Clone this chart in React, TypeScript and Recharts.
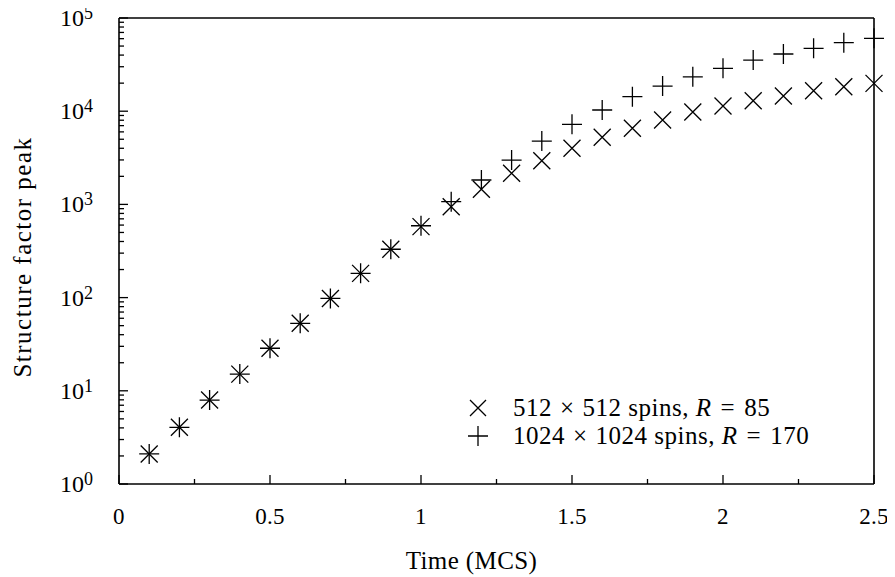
import React from 'react';
import { ScatterChart, Scatter, XAxis, YAxis, Legend } from 'recharts';

const times = [0.1, 0.2, 0.3, 0.4, 0.5, 0.6, 0.7, 0.8, 0.9, 1.0, 1.1, 1.2, 1.3, 1.4, 1.5, 1.6, 1.7, 1.8, 1.9, 2.0, 2.1, 2.2, 2.3, 2.4, 2.5];
const peak512 = [2.1, 4.06, 7.96, 15.1, 28.6, 53, 98, 182, 330, 577, 944, 1452, 2155, 2944, 4000, 5250, 6550, 8050, 9800, 11370, 12970, 14560, 16600, 18300, 19900];
const peak1024 = [2.1, 4.06, 7.96, 15.1, 28.6, 53, 98, 182, 330, 590, 1069, 1828, 2993, 4786, 7230, 10300, 14300, 18600, 23400, 28850, 35400, 41100, 47300, 54300, 60500];
const xTicks = [0, 0.25, 0.5, 0.75, 1, 1.25, 1.5, 1.75, 2, 2.25, 2.5];
const yMajor = [1, 10, 100, 1000, 10000, 100000];
const yMinorMultipliers = [2, 3, 4, 5, 6, 7, 8, 9];
const legendLabels = ['512 × 512 spins, R = 85', '1024 × 1024 spins, R = 170'];

const FONT = "'Liberation Serif', 'Times New Roman', Times, serif";
const INK = '#000';

const yTicks: number[] = [];
yMajor.forEach((m, i) => {
  yTicks.push(m);
  if (i < yMajor.length - 1) yMinorMultipliers.forEach((k) => yTicks.push(k * m));
});

const data512 = times.map((t, i) => ({ x: t, y: peak512[i] }));
const data1024 = times.map((t, i) => ({ x: t, y: peak1024[i] }));

const isXMajor = (v: number) => Math.abs(v * 2 - Math.round(v * 2)) < 1e-6;
const isYMajor = (v: number) => {
  const e = Math.round(Math.log10(v));
  return Math.abs(v - Math.pow(10, e)) < 1e-6 * v;
};

const BottomTick = (props: any) => {
  const { x, y, payload } = props;
  const v = payload.value;
  const major = isXMajor(v);
  return (
    <g>
      <line x1={x} x2={x} y1={y} y2={y - (major ? 9 : 5)} stroke={INK} strokeWidth={1.3} />
      {major && (
        <text x={x} y={y + 32} textAnchor="middle" dominantBaseline="central" style={{ fontFamily: FONT, letterSpacing: '0.3px' }} fontSize={23} fill={INK}>
          {String(v)}
        </text>
      )}
    </g>
  );
};

const TopTick = (props: any) => {
  const { x, y, payload } = props;
  const major = isXMajor(payload.value);
  return <line x1={x} x2={x} y1={y} y2={y + (major ? 9 : 5)} stroke={INK} strokeWidth={1.3} />;
};

const LeftTick = (props: any) => {
  const { x, y, payload } = props;
  const v = payload.value;
  const major = isYMajor(v);
  const e = Math.round(Math.log10(v));
  return (
    <g>
      <line x1={x} x2={x + (major ? 9 : 5)} y1={y} y2={y} stroke={INK} strokeWidth={1.3} />
      {major && (
        <text x={x - 26} y={y + 8} textAnchor="end" style={{ fontFamily: FONT }} fontSize={24} fill={INK}>
          10
          <tspan dy={-7} fontSize={18}>{String(e)}</tspan>
        </text>
      )}
    </g>
  );
};

const RightTick = (props: any) => {
  const { x, y, payload } = props;
  const major = isYMajor(payload.value);
  return <line x1={x} x2={x - (major ? 9 : 5)} y1={y} y2={y} stroke={INK} strokeWidth={1.3} />;
};

const XTitle = (props: any) => {
  const vb = props.viewBox;
  return (
    <text x={vb.x + vb.width / 2 - 25} y={vb.y + 76} textAnchor="middle" dominantBaseline="central" style={{ fontFamily: FONT, letterSpacing: '0.4px' }} fontSize={25} fill={INK}>
      Time (MCS)
    </text>
  );
};

const YTitle = (props: any) => {
  const vb = props.viewBox;
  const cx = vb.x + 22;
  const cy = vb.y + vb.height / 2 + 6;
  return (
    <text x={cx} y={cy} transform={`rotate(-90 ${cx} ${cy})`} textAnchor="middle" dominantBaseline="central" style={{ fontFamily: FONT, letterSpacing: '1.5px' }} fontSize={25} fill={INK}>
      Structure factor peak
    </text>
  );
};

const CrossShape = (props: any) => {
  const { cx, cy } = props;
  const s = 8.5;
  return <path d={`M${cx - s},${cy - s}L${cx + s},${cy + s}M${cx - s},${cy + s}L${cx + s},${cy - s}`} stroke={INK} strokeWidth={1.3} fill="none" />;
};

const PlusShape = (props: any) => {
  const { cx, cy } = props;
  const s = 10;
  return <path d={`M${cx - s},${cy}L${cx + s},${cy}M${cx},${cy - s}L${cx},${cy + s}`} stroke={INK} strokeWidth={1.3} fill="none" />;
};

const renderLabel = (label: string) => {
  const [left, right] = label.split(', ');
  const [a, b] = left.split(' × ');
  const [rName, rVal] = right.split(' = ');
  return (
    <span>
      {a}
      <span style={{ margin: '0 8px' }}>×</span>
      {b}
      {', '}
      <i>{rName}</i>
      <span style={{ margin: '0 9px' }}>=</span>
      {rVal}
    </span>
  );
};

const LegendBox = () => (
  <div style={{ fontFamily: FONT, fontSize: 25, color: INK, lineHeight: '28px', whiteSpace: 'nowrap', letterSpacing: '0.5px' }}>
    <div style={{ display: 'flex', alignItems: 'center', height: 28 }}>
      <svg width={30} height={28} style={{ display: 'block' }}>
        <path d="M7,6L23,22M7,22L23,6" stroke={INK} strokeWidth={1.3} fill="none" />
      </svg>
      <span style={{ marginLeft: 20 }}>{renderLabel(legendLabels[0])}</span>
    </div>
    <div style={{ display: 'flex', alignItems: 'center', height: 28 }}>
      <svg width={30} height={28} style={{ display: 'block' }}>
        <path d="M5,14L25,14M15,4L15,24" stroke={INK} strokeWidth={1.3} fill="none" />
      </svg>
      <span style={{ marginLeft: 20 }}>{renderLabel(legendLabels[1])}</span>
    </div>
  </div>
);

export default function App() {
  return (
    <div style={{ margin: '-8px 0 0 -8px', width: 895, height: 577 }}>
      <ScatterChart width={895} height={577} margin={{ top: 17, right: 20, bottom: 0, left: 0 }}>
        <XAxis
          xAxisId="b"
          dataKey="x"
          type="number"
          domain={[0, 2.5]}
          ticks={xTicks}
          interval={0}
          tickSize={0}
          tickMargin={0}
          tick={<BottomTick />}
          tickLine={false}
          axisLine={{ stroke: INK, strokeWidth: 1.6 }}
          height={93}
          orientation="bottom"
          label={{ content: XTitle }}
        />
        <XAxis
          xAxisId="t"
          dataKey="x"
          type="number"
          domain={[0, 2.5]}
          ticks={xTicks}
          interval={0}
          tickSize={0}
          tickMargin={0}
          tick={<TopTick />}
          tickLine={false}
          axisLine={{ stroke: INK, strokeWidth: 1.6 }}
          height={1}
          orientation="top"
        />
        <YAxis
          yAxisId="l"
          dataKey="y"
          type="number"
          scale="log"
          domain={[1, 100000]}
          ticks={yTicks}
          interval={0}
          tickSize={0}
          tickMargin={0}
          tick={<LeftTick />}
          tickLine={false}
          axisLine={{ stroke: INK, strokeWidth: 1.6 }}
          width={119}
          orientation="left"
          label={{ content: YTitle }}
        />
        <YAxis
          yAxisId="r"
          dataKey="y"
          type="number"
          scale="log"
          domain={[1, 100000]}
          ticks={yTicks}
          interval={0}
          tickSize={0}
          tickMargin={0}
          tick={<RightTick />}
          tickLine={false}
          axisLine={{ stroke: INK, strokeWidth: 1.6 }}
          width={1}
          orientation="right"
        />
        <Legend
          layout="vertical"
          align="center"
          verticalAlign="middle"
          content={<LegendBox />}
          wrapperStyle={{ position: 'absolute', left: 463, top: 394, width: 420, margin: 0 }}
        />
        <Scatter name={legendLabels[0]} data={data512} xAxisId="b" yAxisId="l" shape={<CrossShape />} isAnimationActive={false} />
        <Scatter name={legendLabels[1]} data={data1024} xAxisId="b" yAxisId="l" shape={<PlusShape />} isAnimationActive={false} />
      </ScatterChart>
    </div>
  );
}
